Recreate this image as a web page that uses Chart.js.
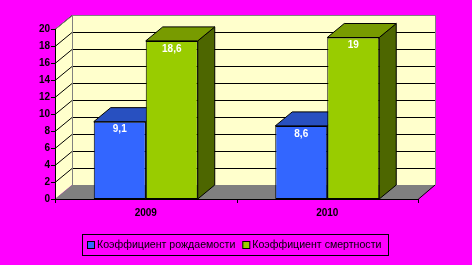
<!DOCTYPE html>
<html>
<head>
<meta charset="utf-8">
<script src="https://cdn.jsdelivr.net/npm/chart.js"></script>
<style>
html,body{margin:0;padding:0;background:#FF00FF;}
#wrap{width:472px;height:265px;position:relative;}
</style>
</head>
<body>
<div id="wrap"><canvas id="c" width="472" height="265"></canvas></div>
<script>
const categories = ['2009', '2010'];
const birthRate = [9.1, 8.6];
const deathRate = [18.6, 19];
const seriesNames = ['Коэффициент рождаемости', 'Коэффициент смертности'];
const yTicks = [0, 2, 4, 6, 8, 10, 12, 14, 16, 18, 20];

const DX = 17, DY = 14;
const faceColors = [
  {front:'#3366FF', top:'#2850C0', side:'#1F3F99'},
  {front:'#99CC00', top:'#789B00', side:'#4D6600'}
];

const threeD = {
  id:'threeD',
  beforeDatasetsDraw(chart){
    const ctx = chart.ctx, a = chart.chartArea, y = chart.scales.y;
    const L=a.left, R=a.right, T=a.top, B=a.bottom;
    ctx.save();
    ctx.fillStyle='#FFFFCC';
    ctx.fillRect(L+DX, T-DY, R-L, B-T);
    ctx.beginPath();
    ctx.moveTo(L,T);ctx.lineTo(L+DX,T-DY);ctx.lineTo(L+DX,B-DY);ctx.lineTo(L,B);ctx.closePath();
    ctx.fill();
    ctx.fillStyle='#808080';
    ctx.beginPath();
    ctx.moveTo(L,B);ctx.lineTo(R,B);ctx.lineTo(R+DX,B-DY);ctx.lineTo(L+DX,B-DY);ctx.closePath();
    ctx.fill();
    ctx.strokeStyle='#000';ctx.lineWidth=1;
    yTicks.forEach(v=>{
      if(v===0) return;
      const py=Math.round(y.getPixelForValue(v))+0.5;
      ctx.beginPath();
      if(v<20){ctx.moveTo(L+DX,py-DY);ctx.lineTo(R+DX,py-DY);}
      ctx.moveTo(L,py);ctx.lineTo(L+DX,py-DY);
      ctx.stroke();
    });
    ctx.strokeStyle='#808080';
    ctx.beginPath();
    ctx.moveTo(L+0.5,T);ctx.lineTo(L+DX+0.5,T-DY+0.5);ctx.lineTo(R+DX+0.5,T-DY+0.5);ctx.lineTo(R+DX+0.5,B-DY);
    ctx.moveTo(L+DX+0.5,T-DY);ctx.lineTo(L+DX+0.5,B-DY);
    ctx.stroke();
    ctx.strokeStyle='#000';
    ctx.beginPath();
    ctx.moveTo(R,B+0.5);ctx.lineTo(R+DX,B-DY);
    ctx.stroke();
    chart.data.datasets.forEach((ds,di)=>{
      const meta=chart.getDatasetMeta(di);
      meta.data.forEach(bar=>{
        const x0=bar.x-bar.width/2, x1=bar.x+bar.width/2, yt=bar.y, yb=bar.base;
        ctx.strokeStyle='#000';
        ctx.fillStyle=faceColors[di].side;
        ctx.beginPath();
        ctx.moveTo(x1,yt);ctx.lineTo(x1+DX,yt-DY);ctx.lineTo(x1+DX,yb-DY);ctx.lineTo(x1,yb);ctx.closePath();
        ctx.fill();ctx.stroke();
        ctx.fillStyle=faceColors[di].top;
        ctx.beginPath();
        ctx.moveTo(x0,yt);ctx.lineTo(x0+DX,yt-DY);ctx.lineTo(x1+DX,yt-DY);ctx.lineTo(x1,yt);ctx.closePath();
        ctx.fill();ctx.stroke();
      });
    });
    ctx.restore();
  },
  afterDatasetsDraw(chart){
    const ctx=chart.ctx, a=chart.chartArea, y=chart.scales.y;
    ctx.save();
    ctx.strokeStyle='#000';ctx.lineWidth=1;
    ctx.beginPath();
    ctx.moveTo(a.left+0.5,a.top);ctx.lineTo(a.left+0.5,a.bottom+0.5);
    ctx.lineTo(a.right,a.bottom+0.5);
    yTicks.forEach(v=>{
      const py=Math.round(y.getPixelForValue(v))+0.5;
      ctx.moveTo(a.left-4,py);ctx.lineTo(a.left+0.5,py);
    });
    [a.left, (a.left+a.right)/2, a.right].forEach(px=>{
      px=Math.round(px)+0.5;
      ctx.moveTo(px,a.bottom);ctx.lineTo(px,a.bottom+4);
    });
    ctx.stroke();
    ctx.fillStyle='#fff';
    ctx.font='bold 10px "Liberation Sans", Arial, sans-serif';
    ctx.textAlign='center';ctx.textBaseline='middle';
    chart.data.datasets.forEach((ds,di)=>{
      chart.getDatasetMeta(di).data.forEach((bar,i)=>{
        const txt=String(ds.data[i]).replace('.',',');
        ctx.fillText(txt,bar.x,bar.y+8);
      });
    });
    ctx.restore();
  },
  afterDraw(chart){
    const ctx=chart.ctx;
    ctx.save();
    ctx.strokeStyle='#000';ctx.lineWidth=1;
    ctx.strokeRect(82.5,234.5,306,21);
    ctx.font='10.6px "Liberation Sans", Arial, sans-serif';
    ctx.textBaseline='middle';ctx.textAlign='left';
    let xx=87;
    seriesNames.forEach((n,i)=>{
      ctx.fillStyle=faceColors[i].front;
      ctx.fillRect(xx,241,7,7);
      ctx.strokeRect(xx+0.5,241.5,7,7);
      ctx.fillStyle='#000';
      ctx.fillText(n,xx+10,245.5);
      xx+=10+ctx.measureText(n).width+7;
    });
    ctx.restore();
  }
};

new Chart(document.getElementById('c'),{
  type:'bar',
  data:{
    labels:categories,
    datasets:[
      {label:seriesNames[0],data:birthRate,backgroundColor:faceColors[0].front,borderColor:'#000',borderWidth:1,borderSkipped:false},
      {label:seriesNames[1],data:deathRate,backgroundColor:faceColors[1].front,borderColor:'#000',borderWidth:1,borderSkipped:false}
    ]
  },
  options:{
    responsive:false,animation:false,
    layout:{padding:{left:0,right:54,top:29,bottom:46}},
    plugins:{legend:{display:false},tooltip:{enabled:false}},
    datasets:{bar:{categoryPercentage:0.573,barPercentage:1}},
    scales:{
      x:{
        grid:{display:false,drawTicks:false},border:{display:false},
        ticks:{color:'#000',font:{family:'"Liberation Sans", Arial, sans-serif',size:10,weight:'bold'},padding:8},
        afterFit(s){s.height=20;}
      },
      y:{
        min:0,max:20,
        grid:{display:false,drawTicks:false},border:{display:false},
        afterBuildTicks(s){s.ticks=yTicks.map(v=>({value:v}));},
        ticks:{color:'#000',font:{family:'"Liberation Sans", Arial, sans-serif',size:10,weight:'bold'},padding:5},
        afterFit(s){s.width=55;}
      }
    }
  },
  plugins:[threeD]
});
</script>
</body>
</html>
